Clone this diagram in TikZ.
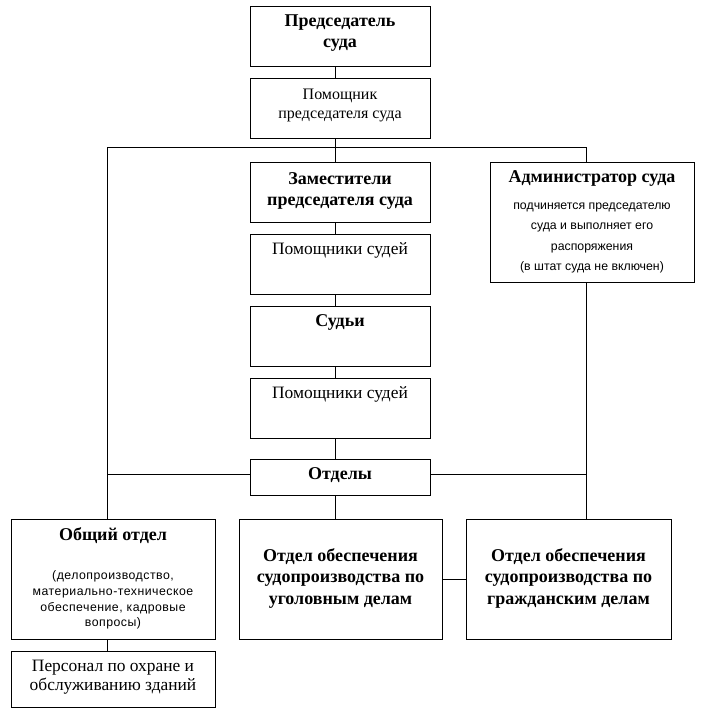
\documentclass[tikz,border=0pt]{standalone}
\usepackage{fontspec}
\setmainfont{Liberation Serif}
\newfontfamily\sansf{Liberation Sans}
\newfontfamily\sansw[LetterSpace=4]{Liberation Sans}
\begin{document}
\begin{tikzpicture}[x=1pt,y=-1pt,
  box/.style={draw, line width=1pt, inner sep=0pt, outer sep=0pt, fill=none},
  tb/.style={inner sep=0pt, align=center, font=\fontsize{18}{21.5}\selectfont\bfseries},
  tr/.style={inner sep=0pt, align=center, font=\fontsize{16}{19}\selectfont},
  tr16/.style={inner sep=0pt, align=center, font=\fontsize{17.4}{19}\selectfont},
  ts/.style={inner sep=0pt, align=center, font=\sansf\fontsize{12.3}{20.3}\selectfont},
  ts2/.style={inner sep=0pt, align=center, font=\sansw\fontsize{12.3}{15.8}\selectfont},
  ln/.style={line width=1pt}]
\useasboundingbox (0,0) rectangle (707,724);
% boxes
\node[box, minimum width=180, minimum height=60] (pred) at (340,36) {};
\node[box, minimum width=180, minimum height=60] (pom) at (340,108) {};
\node[box, minimum width=180, minimum height=60] (zam) at (340,192) {};
\node[box, minimum width=204, minimum height=120] (adm) at (592,222) {};
\node[box, minimum width=180, minimum height=60] (ps1) at (340,264) {};
\node[box, minimum width=180, minimum height=60] (sud) at (340,336) {};
\node[box, minimum width=180, minimum height=60] (ps2) at (340,408) {};
\node[box, minimum width=180, minimum height=36] (otd) at (340,477) {};
\node[box, minimum width=204, minimum height=120] (obs) at (113,579) {};
\node[box, minimum width=203, minimum height=120] (ugo) at (340.5,579) {};
\node[box, minimum width=205, minimum height=120] (gra) at (568.5,579) {};
\node[box, minimum width=204, minimum height=56] (per) at (113,679) {};
% texts
\node[tb] (t1) at (340,33) {Председатель\\суда};
\node[tr] (t2) at (340,105) {Помощник\\председателя суда};
\node[tb] (t3) at (340,191) {Заместители\\председателя суда};
\node[tb] (t4) at (592,178) {Администратор суда};
\node[ts] (t5) at (592,238) {подчиняется председателю\\суда и выполняет его\\распоряжения\\(в штат суда не включен)};
\node[tr16] (t6) at (340,250) {Помощники судей};
\node[tb] (t7) at (340,322) {Судьи};
\node[tr16] (t8) at (340,394) {Помощники судей};
\node[tb] (t9) at (340,475) {Отделы};
\node[tb] (t10) at (113,536) {Общий отдел};
\node[ts2] (t11) at (113,600) {(делопроизводство,\\материально-техническое\\обеспечение, кадровые\\вопросы)};
\node[tb] (t12) at (340.5,578) {Отдел обеспечения\\судопроизводства по\\уголовным делам};
\node[tb] (t13) at (568.5,578) {Отдел обеспечения\\судопроизводства по\\гражданским делам};
\node[tr16] (t14) at (113,677) {Персонал по охране и\\обслуживанию зданий};
% connectors
\coordinate (M) at (335,147);
\coordinate (L) at (107,147);
\coordinate (R) at (586,147);
\coordinate (L2) at (107,474);
\coordinate (R2) at (586,474);
\draw[ln] (pred.south -| M) -- (pom.north -| M);
\draw[ln] (pom.south -| M) -- (M);
\draw[ln] (L) -- (R);
\draw[ln] (M) -- (zam.north -| M);
\draw[ln] (zam.south -| M) -- (ps1.north -| M);
\draw[ln] (ps1.south -| M) -- (sud.north -| M);
\draw[ln] (sud.south -| M) -- (ps2.north -| M);
\draw[ln] (ps2.south -| M) -- (otd.north -| M);
\draw[ln] (otd.south -| M) -- (ugo.north -| M);
\draw[ln] (R) -- (adm.north -| R);
\draw[ln] (adm.south -| R) -- (gra.north -| R);
\draw[ln] (L) -- (obs.north -| L);
\draw[ln] (L2) -- (otd.west |- L2);
\draw[ln] (otd.east |- R2) -- (R2);
\draw[ln] (obs.south -| L) -- (per.north -| L);
\draw[ln] (ugo.east) -- (gra.west);
\end{tikzpicture}
\end{document}
